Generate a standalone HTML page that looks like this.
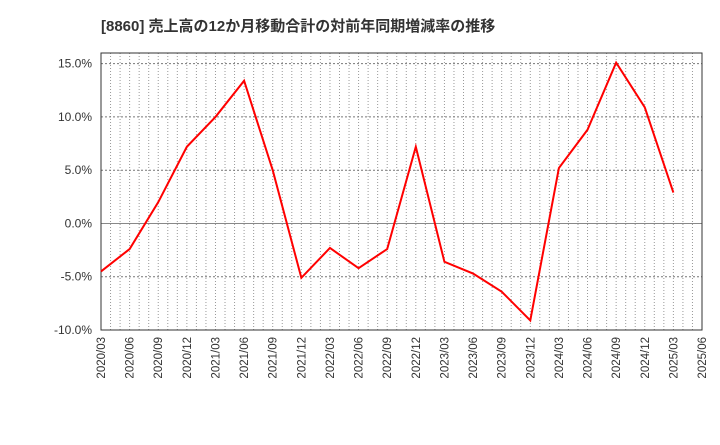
<!DOCTYPE html>
<html><head><meta charset="utf-8"><style>
body{margin:0;background:#fff;width:720px;height:440px;overflow:hidden}
text{font-family:"Liberation Sans","Noto Sans CJK JP",sans-serif}
</style></head><body>
<svg id="chart" width="720" height="440" xmlns="http://www.w3.org/2000/svg">
<text x="101" y="31" font-size="15" font-weight="bold" fill="#333">[8860]  売上高の12か月移動合計の対前年同期増減率の推移</text>
<g id="grid"></g><g id="axes"></g><g id="series"></g>
</svg>
<script>
const categories=["2020/03","2020/06","2020/09","2020/12","2021/03","2021/06","2021/09","2021/12","2022/03","2022/06","2022/09","2022/12","2023/03","2023/06","2023/09","2023/12","2024/03","2024/06","2024/09","2024/12","2025/03","2025/06"];
const values=[-4.5,-2.4,2.0,7.2,10.0,13.4,5.0,-5.1,-2.3,-4.2,-2.4,7.2,-3.6,-4.7,-6.4,-9.1,5.2,8.8,15.1,10.9,2.9];
const yTicks=[-10,-5,0,5,10,15];
const yTickLabels=["-10.0%","-5.0%","0.0%","5.0%","10.0%","15.0%"];
const L=101,R=702,T=53,B=330;
const yMin=-10,yMax=16;
const x=i=>L+(R-L)*i/(categories.length-1);
const y=v=>B-(v-yMin)/(yMax-yMin)*(B-T);
const NS="http://www.w3.org/2000/svg";
function mk(p,t,a){const e=document.createElementNS(NS,t);for(const k in a)e.setAttribute(k,a[k]);p.appendChild(e);return e;}
const g=document.getElementById('grid'),ax=document.getElementById('axes'),s=document.getElementById('series');
const months=(categories.length-1)*3;
for(let m=1;m<months;m++){const xx=L+(R-L)*m/months;
const l=mk(g,'line',{x1:xx,x2:xx,y1:T,y2:B,stroke:'#999','stroke-dasharray':'1,2','stroke-width':1});

}
yTicks.forEach((v,i)=>{const yy=y(v);
const l=mk(g,'line',{x1:L,x2:R,y1:yy,y2:yy,stroke:v===0?'#888':'#777','stroke-dasharray':v===0?'':'2,2','stroke-width':1});


const t=mk(ax,'text',{x:L-9,y:yy+4,'text-anchor':'end','font-size':12,fill:'#333'});t.textContent=yTickLabels[i];

});
categories.forEach((c,i)=>{const xx=x(i);
const t=mk(ax,'text',{x:0,y:0,'text-anchor':'end','font-size':11.5,fill:'#333',transform:`translate(${xx+4},${B+7}) rotate(-90)`});t.textContent=c;

});
const f=mk(ax,'rect',{x:L,y:T,width:R-L,height:B-T,fill:'none',stroke:'#333','stroke-width':1});


const p=mk(s,'polyline',{points:values.map((v,i)=>x(i)+','+y(v)).join(' '),fill:'none',stroke:'#f00','stroke-width':2,'stroke-linejoin':'miter'});


</script>
</body></html>
